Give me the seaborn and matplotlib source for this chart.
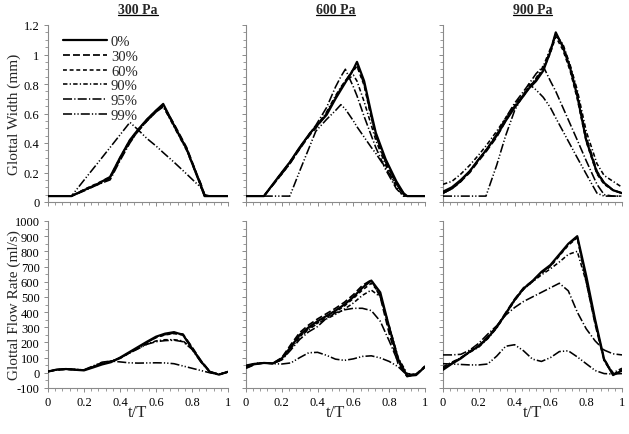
import matplotlib
matplotlib.use("Agg")
import matplotlib.pyplot as plt
import seaborn as sns
import pandas as pd
from matplotlib.ticker import MultipleLocator, FuncFormatter
from matplotlib.lines import Line2D

# ---------------- data ----------------
SERIES = ["0%", "30%", "60%", "90%", "95%", "99%"]
PRESSURES = ["300 Pa", "600 Pa", "900 Pa"]

# Glottal width (mm), top row
W300_T = [0, 0.13, 0.2, 0.28, 0.345, 0.4, 0.455, 0.5, 0.55, 0.6, 0.64, 0.7, 0.77, 0.83, 0.85, 0.87, 0.9, 1]
W300_0 = [0.04, 0.04, 0.08, 0.125, 0.17, 0.3, 0.42, 0.49, 0.56, 0.62, 0.665, 0.52, 0.36, 0.17, 0.11, 0.04, 0.04, 0.04]
W300_30 = [0.04, 0.04, 0.08, 0.12, 0.16, 0.29, 0.41, 0.48, 0.55, 0.61, 0.655, 0.53, 0.37, 0.18, 0.12, 0.05, 0.04, 0.04]
W300_60 = [0.04, 0.04, 0.085, 0.13, 0.17, 0.3, 0.42, 0.49, 0.56, 0.62, 0.66, 0.52, 0.36, 0.17, 0.11, 0.04, 0.04, 0.04]
W300_90 = [0.04, 0.04, 0.08, 0.125, 0.165, 0.29, 0.41, 0.485, 0.555, 0.615, 0.65, 0.51, 0.35, 0.17, 0.1, 0.04, 0.04, 0.04]
W300_95 = [0.04, 0.04, 0.075, 0.12, 0.15, 0.28, 0.4, 0.48, 0.55, 0.61, 0.645, 0.52, 0.36, 0.18, 0.12, 0.05, 0.04, 0.04]
W300_99 = [0.04, 0.04, 0.148, 0.27, 0.37, 0.455, 0.54, 0.49, 0.43, 0.38, 0.335, 0.27, 0.19, 0.12, 0.1, 0.04, 0.04, 0.04]

W600_T = [0, 0.1, 0.2, 0.245, 0.3, 0.36, 0.39, 0.45, 0.5, 0.53, 0.555, 0.6, 0.62, 0.66, 0.7, 0.725, 0.78, 0.84, 0.88, 0.9, 1]
W600_0 = [0.04, 0.04, 0.2, 0.27, 0.37, 0.47, 0.51, 0.59, 0.7, 0.76, 0.81, 0.9, 0.95, 0.82, 0.6, 0.47, 0.29, 0.14, 0.06, 0.04, 0.04]
W600_30 = [0.04, 0.04, 0.19, 0.26, 0.36, 0.46, 0.5, 0.6, 0.71, 0.77, 0.82, 0.9, 0.93, 0.8, 0.58, 0.45, 0.27, 0.13, 0.06, 0.04, 0.04]
W600_60 = [0.04, 0.04, 0.2, 0.27, 0.37, 0.47, 0.51, 0.6, 0.71, 0.77, 0.82, 0.89, 0.92, 0.79, 0.57, 0.45, 0.27, 0.12, 0.05, 0.04, 0.04]
W600_90 = [0.04, 0.04, 0.2, 0.27, 0.37, 0.47, 0.51, 0.61, 0.72, 0.78, 0.82, 0.86, 0.82, 0.68, 0.52, 0.42, 0.25, 0.1, 0.04, 0.04, 0.04]
W600_95 = [0.04, 0.04, 0.19, 0.26, 0.36, 0.47, 0.52, 0.64, 0.78, 0.85, 0.9, 0.78, 0.72, 0.58, 0.45, 0.37, 0.22, 0.09, 0.04, 0.04, 0.04]
W600_99 = [0.04, 0.04, 0.04, 0.04, 0.21, 0.39, 0.48, 0.56, 0.62, 0.66, 0.63, 0.55, 0.51, 0.44, 0.37, 0.33, 0.23, 0.12, 0.055, 0.04, 0.04]

W900_T = [0, 0.05, 0.1, 0.15, 0.2, 0.24, 0.3, 0.35, 0.4, 0.45, 0.48, 0.52, 0.56, 0.6, 0.63, 0.67, 0.71, 0.75, 0.8, 0.86, 0.9, 0.95, 1]
W900_0 = [0.07, 0.1, 0.15, 0.21, 0.29, 0.35, 0.45, 0.55, 0.64, 0.72, 0.77, 0.82, 0.89, 1.02, 1.15, 1.05, 0.91, 0.72, 0.42, 0.2, 0.13, 0.08, 0.06]
W900_30 = [0.06, 0.09, 0.14, 0.2, 0.28, 0.34, 0.44, 0.55, 0.65, 0.73, 0.78, 0.83, 0.9, 1.03, 1.14, 1.06, 0.92, 0.74, 0.44, 0.21, 0.13, 0.08, 0.06]
W900_60 = [0.06, 0.09, 0.14, 0.21, 0.29, 0.35, 0.46, 0.56, 0.65, 0.72, 0.77, 0.83, 0.9, 1.01, 1.12, 1.03, 0.89, 0.7, 0.41, 0.19, 0.12, 0.08, 0.06]
W900_90 = [0.12, 0.14, 0.19, 0.25, 0.32, 0.38, 0.48, 0.57, 0.66, 0.73, 0.78, 0.84, 0.92, 1.04, 1.13, 1.07, 0.93, 0.76, 0.48, 0.26, 0.18, 0.14, 0.1]
W900_95 = [0.06, 0.09, 0.14, 0.21, 0.29, 0.35, 0.46, 0.57, 0.67, 0.75, 0.8, 0.87, 0.92, 0.82, 0.75, 0.64, 0.53, 0.42, 0.28, 0.12, 0.05, 0.04, 0.04]
W900_99 = [0.04, 0.04, 0.04, 0.04, 0.04, 0.04, 0.25, 0.45, 0.62, 0.73, 0.8, 0.76, 0.71, 0.64, 0.57, 0.48, 0.39, 0.3, 0.19, 0.06, 0.04, 0.04, 0.04]

# Glottal flow rate (ml/s), bottom row
F_T = [0, 0.05, 0.1, 0.15, 0.2, 0.25, 0.3, 0.35, 0.4, 0.45, 0.5,
       0.55, 0.6, 0.65, 0.7, 0.75, 0.8, 0.85, 0.9, 0.95, 1.0]
F300_0 = [8, 22, 25, 20, 16, 35, 55, 70, 100, 135, 170, 205, 238, 258, 268, 250, 160, 75, 5, -12, 7]
F300_30 = [10, 20, 24, 22, 18, 40, 65, 75, 95, 130, 165, 200, 233, 252, 262, 255, 170, 80, 8, -10, 6]
F300_60 = [8, 20, 24, 21, 17, 38, 62, 74, 98, 132, 166, 200, 232, 250, 258, 250, 165, 78, 6, -11, 6]
F300_90 = [9, 20, 24, 22, 18, 40, 66, 76, 98, 130, 160, 190, 210, 218, 218, 210, 160, 75, 5, -10, 6]
F300_95 = [9, 20, 24, 22, 18, 40, 65, 75, 97, 128, 158, 188, 205, 212, 215, 205, 155, 70, 5, -10, 6]
F300_99 = [9, 20, 24, 22, 20, 45, 70, 78, 72, 66, 64, 65, 66, 65, 60, 45, 30, 15, 0, -10, 6]

F600_0 = [35, 58, 65, 62, 95, 170, 250, 300, 340, 375, 410, 450, 500, 560, 608, 530, 300, 90, -20, -15, 40]
F600_30 = [30, 55, 65, 62, 100, 185, 265, 315, 355, 390, 425, 465, 515, 575, 612, 500, 260, 60, -25, -10, 45]
F600_60 = [40, 60, 66, 62, 90, 165, 240, 290, 330, 365, 400, 440, 490, 545, 590, 520, 290, 85, -15, -15, 40]
F600_90 = [45, 60, 65, 62, 85, 160, 235, 285, 325, 355, 385, 420, 460, 510, 545, 500, 310, 100, -5, -10, 40]
F600_95 = [50, 62, 65, 62, 85, 150, 220, 270, 305, 360, 395, 415, 425, 425, 410, 340, 210, 70, -10, -10, 40]
F600_99 = [45, 60, 65, 60, 58, 65, 100, 132, 135, 115, 90, 82, 92, 108, 112, 98, 75, 40, -15, -10, 35]

F900_0 = [20, 60, 95, 140, 175, 230, 300, 390, 480, 555, 605, 665, 710, 780, 850, 900, 640, 350, 90, -15, 15]
F900_30 = [30, 65, 100, 140, 180, 240, 305, 395, 485, 560, 605, 660, 705, 775, 845, 895, 600, 320, 80, -10, 20]
F900_60 = [25, 62, 98, 138, 178, 235, 300, 388, 478, 552, 600, 655, 700, 770, 840, 890, 620, 340, 85, -12, 18]
F900_90 = [40, 70, 100, 135, 170, 225, 295, 385, 475, 550, 600, 645, 685, 730, 780, 800, 600, 330, 90, 0, 30]
F900_95 = [118, 118, 122, 150, 195, 255, 310, 380, 430, 470, 500, 530, 560, 590, 540, 400, 290, 210, 150, 125, 118]
F900_99 = [60, 58, 55, 52, 52, 58, 110, 175, 185, 145, 90, 75, 100, 140, 145, 105, 60, 15, -5, -8, -5]

WIDTH_T = [W300_T, W600_T, W900_T]
WIDTH_V = [[W300_0, W300_30, W300_60, W300_90, W300_95, W300_99],
           [W600_0, W600_30, W600_60, W600_90, W600_95, W600_99],
           [W900_0, W900_30, W900_60, W900_90, W900_95, W900_99]]
FLOW_V = [[F300_0, F300_30, F300_60, F300_90, F300_95, F300_99],
          [F600_0, F600_30, F600_60, F600_90, F600_95, F600_99],
          [F900_0, F900_30, F900_60, F900_90, F900_95, F900_99]]

# ---------------- style ----------------
sns.set_theme(style="white")
plt.rcParams["font.family"] = ["Liberation Serif", "DejaVu Serif"]
plt.rcParams["lines.scale_dashes"] = False

LINESTYLES = ["-", (0, (5, 2.2)), (0, (2.8, 2.0)), (0, (3.2, 1.6, 0.9, 1.6)),
              (0, (6.5, 1.6, 0.9, 1.6)), (0, (6.5, 1.5, 0.9, 1.5, 0.9, 1.5))]
LINEWIDTHS = [1.6, 1.25, 1.15, 1.15, 1.15, 1.15]
SPINE = "#8a8a8a"

fig = plt.figure(figsize=(6.29, 4.35), dpi=100)
W, H = 629, 435
col_left = [48, 246, 443]
col_w = [180, 179, 179]
top_row = (26, 203)
bot_row = (222, 389)

fmt = FuncFormatter(lambda v, p: "{:g}".format(round(v, 6)))

axes = []
for r in range(2):
    y0, y1 = top_row if r == 0 else bot_row
    for c in range(3):
        ax = fig.add_axes([col_left[c] / W, 1 - y1 / H, col_w[c] / W, (y1 - y0) / H])
        axes.append((r, c, ax))
        if r == 0:
            tt = WIDTH_T[c]
            vals = WIDTH_V[c]
        else:
            tt = F_T
            vals = FLOW_V[c]
        for i, s in enumerate(SERIES):
            df = pd.DataFrame({"t": tt, "v": vals[i]})
            sns.lineplot(data=df, x="t", y="v", ax=ax, color="black",
                         linestyle=LINESTYLES[i], linewidth=LINEWIDTHS[i],
                         label=s, sort=False, zorder=10 - i)
        leg = ax.get_legend()
        if leg is not None:
            leg.remove()
        ax.set_xlim(0, 1)
        ax.xaxis.set_major_locator(MultipleLocator(0.2))
        ax.xaxis.set_minor_locator(MultipleLocator(0.04))
        if r == 0:
            ax.set_ylim(0, 1.2)
            ax.yaxis.set_major_locator(MultipleLocator(0.2))
            ax.yaxis.set_minor_locator(MultipleLocator(0.05))
        else:
            ax.set_ylim(-100, 1000)
            ax.yaxis.set_major_locator(MultipleLocator(100))
            ax.yaxis.set_minor_locator(MultipleLocator(50))
        for sp in ["top", "right"]:
            ax.spines[sp].set_visible(False)
        for sp in ["left", "bottom"]:
            ax.spines[sp].set_color(SPINE)
            ax.spines[sp].set_linewidth(0.8)
        ax.tick_params(which="major", direction="out", length=3, width=0.7,
                       color=SPINE, labelsize=9, pad=3, labelcolor="black")
        ax.tick_params(which="minor", direction="out", length=2, width=0.6, color=SPINE)
        ax.tick_params(axis="both", which="both", bottom=True, left=True)
        ax.xaxis.set_major_formatter(fmt)
        ax.yaxis.set_major_formatter(fmt)
        ax.set_xlabel("")
        ax.set_ylabel("")
        if c != 0:
            ax.tick_params(axis="y", labelleft=False)
        if r == 0:
            ax.tick_params(axis="x", labelbottom=False)
        else:
            ax.set_xlabel("t/T", fontsize=12)
            ax.xaxis.set_label_coords(0.5, -0.095)
        if c == 0:
            ax.set_ylabel("Glottal Width (mm)" if r == 0 else "Glottal Flow Rate (ml/s)",
                          fontsize=11)
            ax.yaxis.set_label_coords(-0.15, 0.5)
        if r == 0:
            ax.set_title(PRESSURES[c], fontsize=10, fontweight="bold", pad=9)

# legend in the first panel
ax0 = axes[0][2]
h, l = ax0.get_legend_handles_labels()
ax0.legend(h, l, loc="upper left", bbox_to_anchor=(0.05, 0.975), frameon=False,
           handlelength=3.0, handletextpad=0.3, labelspacing=0.1, fontsize=10.5,
           borderaxespad=0.0)

# underline titles
fig.canvas.draw()
renderer = fig.canvas.get_renderer()
for r, c, ax in axes:
    if r == 0:
        bb = ax.title.get_window_extent(renderer)
        fig.add_artist(Line2D([bb.x0, bb.x1], [bb.y0 + 1, bb.y0 + 1], color="black",
                              linewidth=0.9, transform=None))

fig.savefig("out.png", dpi=100)
